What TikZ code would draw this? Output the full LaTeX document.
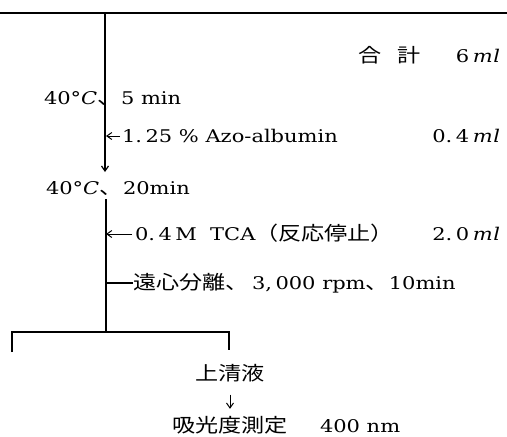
\documentclass[tikz,border=0pt]{standalone}
\usepackage{fontspec}
\usepackage{graphicx}
\setmainfont{DejaVu Serif}
\newfontfamily\cjk{Noto Sans CJK JP}[Scale=1.1]
\usetikzlibrary{arrows.meta}
\newcommand{\sx}[1]{\scalebox{1.2}[1]{#1}}
\newcommand{\jp}[1]{{\cjk #1}}
\newcommand{\mlu}{\textit{m\kern0.5pt l}}
\begin{document}
\begin{tikzpicture}[x=1pt,y=-1pt,
  txt/.style={inner sep=0pt, outer sep=0pt, font=\fontsize{17.5}{20}\selectfont},
  ln/.style={line width=1.2pt},
  arr/.style={line width=1pt, -{Straight Barb[length=5pt,width=7pt]}}]
\useasboundingbox (0,0) rectangle (507,437);
% coordinates of the line work
\coordinate (tl) at (0,13);
\coordinate (tr) at (507,13);
\coordinate (top) at (105,13);
\coordinate (tip1) at (105,172);
\coordinate (azoend) at (106,136);
\coordinate (m2) at (106,199);
\coordinate (tcaend) at (106,234);
\coordinate (cend) at (106,283);
\coordinate (br) at (106,332);
\coordinate (bl) at (12,332);
\coordinate (brr) at (229,332);
\coordinate (bld) at (12,352);
\coordinate (brd) at (229,350);
% texts
\node[txt, anchor=base west] (total) at (358,62) {\sx{\jp{合\hspace{0.7em}計}}};
\node[txt, anchor=base east] (totalv) at (500,62) {\sx{6\,\mlu}};
\node[txt, anchor=base west] (c1) at (44,104) {\sx{40°\textit{C}\jp{、}}};
\node[txt, anchor=base west] (t1) at (121,104) {\sx{5 min}};
\node[txt, anchor=base west] (azo) at (122,142) {\sx{1.\,25 \% Azo-albumin}};
\node[txt, anchor=base east] (azov) at (500,142) {\sx{0.\,4\,\mlu}};
\node[txt, anchor=base west] (c2) at (46,194) {\sx{40°\textit{C}\jp{、}}};
\node[txt, anchor=base west] (t2) at (123,194) {\sx{20min}};
\node[txt, anchor=base west] (tca) at (135,240) {\sx{0.\,4\,M\ \ TCA\jp{（反応停止）}}};
\node[txt, anchor=base east] (tcav) at (500,240) {\sx{2.\,0\,\mlu}};
\node[txt, anchor=base west] (cent) at (133,289) {\sx{\jp{遠心分離、}\,3,\,000 rpm\jp{、}10min}};
\node[txt, anchor=base] (sup) at (230,380) {\sx{\jp{上清液}}};
\node[txt, anchor=base west] (meas) at (172,432) {\sx{\jp{吸光度測定}}};
\node[txt, anchor=base west] (nm) at (320,432) {\sx{400 nm}};
% line work
\draw[line width=1.6pt] (tl) -- (tr);
\draw[arr, ln] (top) -- (tip1);
\draw[arr, shorten <=2pt] (azo.west |- azoend) -- (azoend);
\draw[ln] (m2) -- (br);
\draw[arr, shorten <=3pt] (tca.west |- tcaend) -- (tcaend);
\draw[ln] (cend) -- (cent.west |- cend);
\draw[ln] (bld) -- (bl) -- (brr) -- (brd);
\draw[arr, shorten <=13pt, shorten >=7pt] (sup.south) -- (sup.south |- meas.north);
\end{tikzpicture}
\end{document}
